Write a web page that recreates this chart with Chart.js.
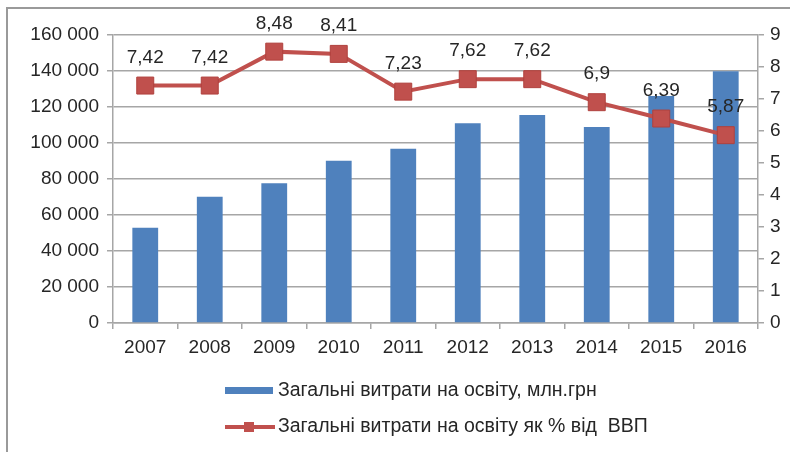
<!DOCTYPE html>
<html>
<head>
<meta charset="utf-8">
<script src="https://cdn.jsdelivr.net/npm/chart.js@4.4.1/dist/chart.umd.min.js"></script>
<style>
  html, body { margin: 0; padding: 0; background: #fff; overflow: hidden; }
  canvas { display: block; }
</style>
</head>
<body>
<canvas id="c" width="790" height="452"></canvas>
<script>
const years = ['2007','2008','2009','2010','2011','2012','2013','2014','2015','2016'];
const spending = [52900, 70200, 77600, 90200, 96800, 111000, 115500, 108900, 126100, 139900];
const gdpShare = [7.42, 7.42, 8.48, 8.41, 7.23, 7.62, 7.62, 6.9, 6.39, 5.87];
const barLabel = 'Загальні витрати на освіту, млн.грн';
const lineLabel = 'Загальні витрати на освіту як % від  ВВП';

const FONT = 'Liberation Sans, Arial, sans-serif';
const TXT = '#262626';
const GRID = '#a6a6a6';
const BLUE = '#4F81BD';
const RED = '#C0504D';

function fmtThousands(v) {
  return String(v).replace(/\B(?=(\d{3})+(?!\d))/g, ' ');
}

const framePlugin = {
  id: 'frame',
  beforeDraw(chart) {
    const ctx = chart.ctx;
    ctx.save();
    ctx.fillStyle = '#fff';
    ctx.fillRect(0, 0, chart.width, chart.height);
    ctx.strokeStyle = '#9a9a9a';
    ctx.lineWidth = 2;
    ctx.beginPath();
    ctx.moveTo(7, chart.height + 5);
    ctx.lineTo(7, 8);
    ctx.lineTo(chart.width + 5, 8);
    ctx.stroke();
    ctx.restore();
  }
};

const labelPlugin = {
  id: 'pointLabels',
  afterDatasetsDraw(chart) {
    const meta = chart.getDatasetMeta(1);
    const ctx = chart.ctx;
    ctx.save();
    ctx.font = '19px ' + FONT;
    ctx.fillStyle = TXT;
    ctx.textAlign = 'center';
    ctx.textBaseline = 'middle';
    meta.data.forEach((pt, i) => {
      ctx.fillText(String(gdpShare[i]).replace('.', ','), pt.x, pt.y - 28);
    });
    ctx.restore();
  }
};

const legendPlugin = {
  id: 'customLegend',
  afterDraw(chart) {
    const ctx = chart.ctx;
    ctx.save();
    ctx.font = '19.5px ' + FONT;
    ctx.textBaseline = 'middle';
    const y1 = 391, y2 = 427;
    ctx.fillStyle = BLUE;
    ctx.fillRect(225, y1 - 4, 48, 7);
    ctx.fillStyle = TXT;
    ctx.fillText(barLabel, 278, y1);
    ctx.strokeStyle = RED;
    ctx.lineWidth = 4;
    ctx.beginPath();
    ctx.moveTo(225, y2);
    ctx.lineTo(275, y2);
    ctx.stroke();
    ctx.fillStyle = RED;
    ctx.fillRect(244, y2 - 5, 10, 10);
    ctx.fillStyle = TXT;
    ctx.fillText(lineLabel, 278, y2);
    ctx.restore();
  }
};

new Chart(document.getElementById('c'), {
  data: {
    labels: years,
    datasets: [
      {
        type: 'bar',
        label: barLabel,
        data: spending,
        backgroundColor: BLUE,
        barPercentage: 0.4,
        categoryPercentage: 1.0,
        yAxisID: 'y',
        order: 2
      },
      {
        type: 'line',
        label: lineLabel,
        data: gdpShare,
        borderColor: RED,
        backgroundColor: RED,
        borderWidth: 4,
        pointStyle: 'rect',
        pointRadius: 12,
        pointHoverRadius: 12,
        pointBorderWidth: 1,
        pointBorderColor: '#b0403d',
        pointBackgroundColor: RED,
        tension: 0,
        yAxisID: 'y2',
        order: 1
      }
    ]
  },
  plugins: [framePlugin, labelPlugin, legendPlugin],
  options: {
    responsive: false,
    animation: false,
    devicePixelRatio: 1,
    layout: { padding: { left: 0, right: 0, top: 35, bottom: 0 } },
    plugins: { legend: { display: false }, tooltip: { enabled: false } },
    scales: {
      x: {
        grid: { display: true, drawOnChartArea: false, drawTicks: true, tickLength: 6, color: GRID, lineWidth: 1.5, offset: true },
        border: { display: true, color: GRID, width: 1.5 },
        ticks: { color: TXT, font: { family: FONT, size: 19 }, padding: 7, maxRotation: 0 },
        afterFit(s) { s.height = 129; }
      },
      y: {
        position: 'left',
        min: 0, max: 160000,
        grid: { color: GRID, lineWidth: 1.5, tickLength: 6 },
        border: { display: true, color: GRID, width: 1.5 },
        ticks: { stepSize: 20000, color: TXT, font: { family: FONT, size: 19 }, padding: 8,
                 callback: v => fmtThousands(v) },
        afterFit(s) { s.width = 113; }
      },
      y2: {
        position: 'right',
        min: 0, max: 9,
        grid: { drawOnChartArea: false, color: GRID, lineWidth: 1.5, tickLength: 6 },
        border: { display: true, color: GRID, width: 1.5 },
        ticks: { stepSize: 1, color: TXT, font: { family: FONT, size: 19 }, padding: 6 },
        afterFit(s) { s.width = 32; }
      }
    }
  }
});
</script>
</body>
</html>
